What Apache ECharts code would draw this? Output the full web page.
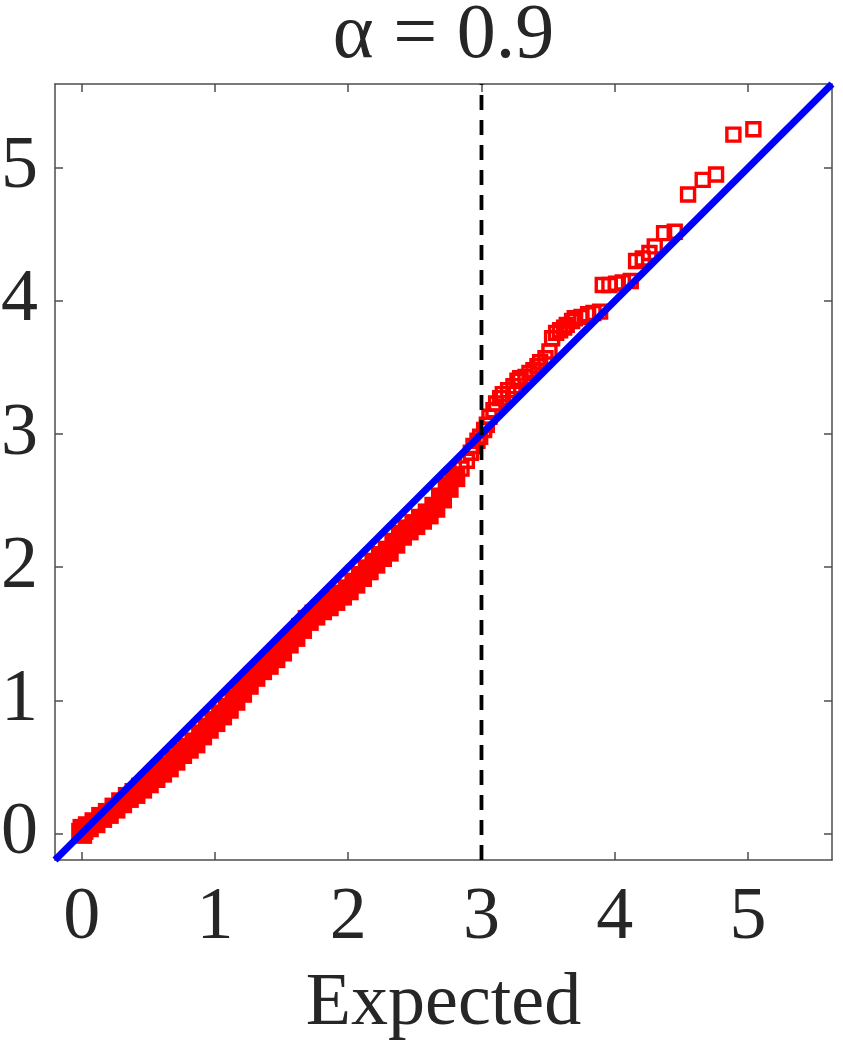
<!DOCTYPE html>
<html>
<head>
<meta charset="utf-8">
<script src="https://cdn.jsdelivr.net/npm/echarts@6/dist/echarts.min.js"></script>
<style>
html,body{margin:0;padding:0;background:#fff;}
#chart{width:843px;height:1046px;}
</style>
</head>
<body>
<div id="chart"></div>
<script>
// ---- data ----
const titleText = 'α = 0.9';
const xAxisName = 'Expected';
const tickValues = [0, 1, 2, 3, 4, 5];
const axisRange = [-0.2, 5.63];
const thresholdX = 3;

// dense part of the Q-Q cloud (expected, observed)
const denseExpected = [0.00,0.01,0.05,0.10,0.15,0.20,0.25,0.30,0.35,0.40,0.45,0.50,0.55,0.60,0.65,0.70,0.75,0.80,0.85,0.90,0.95,1.00,1.05,1.10,1.15,1.20,1.25,1.30,1.35,1.40,1.45,1.50,1.55,1.60,1.65,1.70,1.75,1.80,1.85,1.90,1.95,2.00,2.05,2.10,2.15,2.20,2.25,2.30,2.35,2.40,2.45,2.50,2.55,2.60,2.65,2.70,2.75,2.80];
const denseObserved = [0.00,0.03,0.05,0.08,0.12,0.15,0.19,0.23,0.27,0.30,0.34,0.38,0.42,0.46,0.50,0.55,0.60,0.64,0.68,0.74,0.79,0.84,0.89,0.94,1.00,1.06,1.12,1.18,1.23,1.27,1.32,1.37,1.43,1.48,1.54,1.60,1.64,1.68,1.71,1.75,1.79,1.83,1.88,1.93,1.98,2.03,2.08,2.12,2.18,2.24,2.28,2.32,2.36,2.40,2.45,2.52,2.60,2.68];

// sparse upper tail (expected, observed)
const tailExpected = [2.85,2.89,2.92,2.94,2.97,2.99,3.02,3.04,3.06,3.09,3.11,3.14,3.16,3.20,3.24,3.27,3.29,3.33,3.36,3.39,3.42,3.44,3.48,3.51,3.53,3.56,3.59,3.62,3.64,3.68,3.70,3.75,3.80,3.84,3.89,3.91,3.96,4.01,4.06,4.12,4.16,4.21,4.26,4.30,4.37,4.45,4.55,4.66,4.76,4.89,5.04];
const tailObserved = [2.74,2.80,2.86,2.91,2.95,2.98,3.03,3.07,3.13,3.18,3.23,3.27,3.30,3.33,3.36,3.40,3.42,3.43,3.46,3.48,3.51,3.54,3.57,3.62,3.72,3.76,3.78,3.80,3.82,3.85,3.87,3.88,3.90,3.91,3.92,4.12,4.12,4.13,4.14,4.15,4.30,4.32,4.36,4.41,4.51,4.52,4.80,4.91,4.95,5.25,5.29];

// reference line y = x across the axes
const refLine = [axisRange[0], axisRange[1]];

// ---- build ----
const pair = (xs, ys) => xs.map((x, i) => [x, ys[i]]);
const FONT = '"Liberation Serif", "DejaVu Serif", serif';
const AX = '#262626';
const FRAME = '#4d4d4d';

const baseAxis = (pos, showLabel) => ({
  type: 'value',
  position: pos,
  min: axisRange[0],
  max: axisRange[1],
  splitLine: { show: false },
  axisLine: { show: true, onZero: false, lineStyle: { color: FRAME, width: 1.5 } },
  axisTick: { show: true, inside: true, length: 8, customValues: tickValues, lineStyle: { color: FRAME, width: 1.5 } },
  axisLabel: showLabel ? { show: true, customValues: tickValues, color: AX, fontFamily: FONT, fontSize: 74 } : { show: false }
});

const xBottom = baseAxis('bottom', true);
xBottom.axisLabel.margin = 22;
xBottom.name = xAxisName;
xBottom.nameLocation = 'middle';
xBottom.nameGap = 108;
xBottom.nameTextStyle = { color: AX, fontFamily: FONT, fontSize: 74 };
const xTop = baseAxis('top', false);
const yLeft = baseAxis('left', true);
yLeft.axisLabel.margin = 17;
const yRight = baseAxis('right', false);

const option = {
  animation: false,
  backgroundColor: '#ffffff',
  graphic: [{
    type: 'text',
    x: 443.5,
    y: -2,
    style: {
      text: titleText,
      align: 'center',
      verticalAlign: 'top',
      fill: AX,
      font: '78px "Liberation Serif", "DejaVu Serif", serif'
    }
  }],
  grid: { left: 55, right: 11, top: 84, bottom: 186, containLabel: false, outerBoundsMode: 'none' },
  xAxis: [xBottom, xTop],
  yAxis: [yLeft, yRight],
  series: [
    {
      type: 'scatter', name: 'dense', z: 2,
      symbol: 'rect', symbolSize: 21,
      itemStyle: { color: '#ff0000', opacity: 1 },
      data: pair(denseExpected, denseObserved)
    },
    {
      type: 'scatter', name: 'tail', z: 2,
      symbol: 'rect', symbolSize: 13,
      itemStyle: { color: 'rgba(0,0,0,0)', borderColor: '#ff0000', borderWidth: 3.4, opacity: 1 },
      data: pair(tailExpected, tailObserved)
    },
    {
      type: 'line', name: 'reference', z: 3, clip: false,
      symbol: 'none',
      lineStyle: { color: '#0000ff', width: 7, cap: 'butt' },
      data: pair(refLine, refLine)
    },
    {
      type: 'line', name: 'threshold', z: 4,
      symbol: 'none',
      lineStyle: { color: '#000000', width: 3.8, type: [15, 10] },
      data: [[thresholdX, axisRange[0]], [thresholdX, axisRange[1]]]
    }
  ]
};

const chart = echarts.init(document.getElementById('chart'), null, { renderer: 'canvas' });
chart.setOption(option);
</script>
</body>
</html>
